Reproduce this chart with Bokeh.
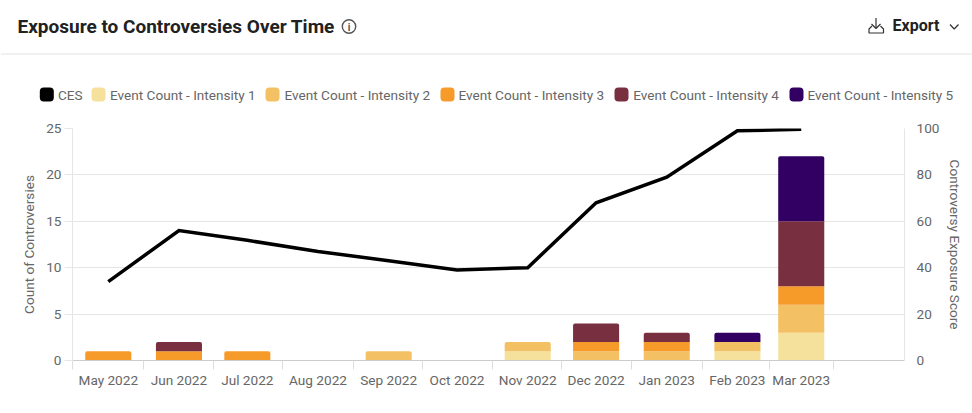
import pandas as pd
from bokeh.plotting import figure
from bokeh.layouts import column, row
from bokeh.models import Range1d, LinearAxis, FixedTicker, ColumnDataSource
from bokeh.core.properties import value
from bokeh.embed import file_html
from bokeh.resources import INLINE

FONT = "Roboto"
TEXT_SIZE = "13.6px"
TITLE = "Exposure to Controversies Over Time"
months = ["2022-05-01", "2022-06-01", "2022-07-01", "2022-08-01", "2022-09-01", "2022-10-01",
          "2022-11-01", "2022-12-01", "2023-01-01", "2023-02-01", "2023-03-01"]
month_labels = ["May 2022", "Jun 2022", "Jul 2022", "Aug 2022", "Sep 2022", "Oct 2022",
                "Nov 2022", "Dec 2022", "Jan 2023", "Feb 2023", "Mar 2023"]
ces = [34, 56, 51.8, 47, 43, 39, 40, 68, 79, 99, 99.7]
intensity_1 = [0, 0, 0, 0, 0, 0, 1, 0, 0, 1, 3]
intensity_2 = [0, 0, 0, 0, 1, 0, 1, 1, 1, 1, 3]
intensity_3 = [1, 1, 1, 0, 0, 0, 0, 1, 1, 0, 2]
intensity_4 = [0, 1, 0, 0, 0, 0, 0, 2, 1, 0, 7]
intensity_5 = [0, 0, 0, 0, 0, 0, 0, 0, 0, 1, 7]
series_names = ["CES", "Event Count - Intensity 1", "Event Count - Intensity 2",
                "Event Count - Intensity 3", "Event Count - Intensity 4", "Event Count - Intensity 5"]
series_colors = ["#000000", "#F5E19C", "#F4C064", "#F69A2A", "#782F40", "#310062"]
left_ticks = [0, 5, 10, 15, 20, 25]
right_ticks = [0, 20, 40, 60, 80, 100]

# ---------- header: title, export control, divider, legend (pixel coordinates) ----------
W = 972
HEAD_H = 110
head = figure(width=W, height=HEAD_H, x_range=Range1d(0, W), y_range=Range1d(HEAD_H, 0),
              output_backend="svg", toolbar_location=None, min_border=0)
head.axis.visible = False
head.grid.visible = False
head.outline_line_color = None

head.text(x=[17], y=[26], text=[TITLE], text_font=value(FONT), text_font_style="bold",
          text_font_size="19px", text_color="#212121", text_baseline="middle")
head.text(x=[892], y=[25], text=["Export"], text_font=value(FONT), text_font_style="bold",
          text_font_size="16px", text_color="#212121", text_baseline="middle")
head.line([0, W], [53.5, 53.5], line_color="#E3E3E3", line_width=1)

# info icon
head.circle(x=[348.5], y=[26], radius=6.7, fill_color=None, line_color="#555555", line_width=1.4)
head.text(x=[348.5], y=[26.5], text=["i"], text_font=value(FONT), text_font_size="10px",
          text_color="#555555", text_align="center", text_baseline="middle", text_font_style="bold")

# export icon + chevron
ICON = dict(line_color="#333333", line_width=1.2)
head.line([875.5, 875.5], [17.5, 27.5], **ICON)
head.line([871, 875.5, 880], [23.5, 28, 23.5], **ICON)
head.line([871.5, 868.5, 868.5, 883, 883, 880], [25.5, 28.5, 32.5, 32.5, 28.5, 25.5], **ICON)
head.line([949.5, 953.7, 958], [24, 28.5, 24], line_color="#333333", line_width=1.2)

# legend
swatch_left = [39.3, 91, 265, 440, 614, 789]
text_left = [57.5, 109.5, 284, 458, 632.7, 807]
head.quad(left=swatch_left, right=[v + 14 for v in swatch_left], top=[87] * 6, bottom=[101] * 6,
          fill_color=series_colors, line_color=None, border_radius=4)
head.text(x=text_left, y=[94.2] * 6, text=series_names, text_font=value(FONT), text_font_size=TEXT_SIZE,
          text_color="#666666", text_baseline="middle")

# ---------- chart ----------
start = pd.Timestamp(months[0])
x = [int((pd.Timestamp(m) - start).days) for m in months]
x_left, x_right = -15.7, 349.3
edges = [x_left] + [(a + b) / 2 for a, b in zip(x[:-1], x[1:])] + [x[-1] + 14]

p = figure(width=W, height=413 - HEAD_H, x_range=Range1d(x_left, x_right), y_range=Range1d(0, 25),
           output_backend="svg", toolbar_location=None, min_border_left=72, min_border_right=68,
           min_border_top=18, min_border_bottom=53)
p.extra_y_ranges = {"score": Range1d(0, 100)}
p.outline_line_color = None
p.xgrid.visible = False
p.ygrid.ticker = FixedTicker(ticks=left_ticks)
p.ygrid.grid_line_color = "#E6E6E6"

stacks = [intensity_1, intensity_2, intensity_3, intensity_4, intensity_5]
inner = dict(x=[], bottom=[], top=[], color=[])
tops = dict(x=[], bottom=[], top=[], color=[])
for i, xv in enumerate(x):
    base = 0
    heights = [s[i] for s in stacks]
    last = max([k for k, h in enumerate(heights) if h > 0], default=-1)
    for k, h in enumerate(heights):
        if h > 0:
            tgt = tops if k == last else inner
            tgt["x"].append(xv)
            tgt["bottom"].append(base)
            tgt["top"].append(base + h)
            tgt["color"].append(series_colors[k + 1])
            base += h
BAR_W = 20.2
p.vbar(x="x", bottom="bottom", top="top", width=BAR_W, fill_color="color", line_color=None,
       source=ColumnDataSource(inner))
p.vbar(x="x", bottom="bottom", top="top", width=BAR_W, fill_color="color", line_color=None,
       border_radius=(2, 2, 0, 0), source=ColumnDataSource(tops))
p.line(x, ces, y_range_name="score", line_color="#000000", line_width=3.5, line_join="miter")

TICK = dict(major_label_text_font=FONT, major_label_text_font_size=TEXT_SIZE, major_label_text_color="#666666",
            axis_label_text_font=FONT, axis_label_text_font_size=TEXT_SIZE, axis_label_text_color="#666666",
            axis_label_text_font_style="normal")

xa = p.xaxis[0]
xa.ticker = FixedTicker(ticks=x, minor_ticks=edges)
xa.major_label_overrides = dict(zip(x, month_labels))
xa.axis_line_color = "#CCCCCC"
xa.major_tick_line_color = None
xa.major_tick_in = 0
xa.major_tick_out = 9
xa.minor_tick_line_color = "#DDDDDD"
xa.minor_tick_in = 0
xa.minor_tick_out = 9
xa.major_label_standoff = 2
xa.update(**TICK)

ya = p.yaxis[0]
ya.ticker = FixedTicker(ticks=left_ticks)
ya.axis_label = "Count of Controversies"
ya.axis_line_color = "#E6E6E6"
ya.major_tick_line_color = "#E6E6E6"
ya.major_tick_in = 0
ya.major_tick_out = 8
ya.minor_tick_line_color = None
ya.major_label_standoff = 3
ya.axis_label_standoff = 6
ya.update(**TICK)

yr = LinearAxis(y_range_name="score", ticker=FixedTicker(ticks=right_ticks),
                axis_label="Controversy Exposure Score")
yr.axis_line_color = "#E6E6E6"
yr.major_tick_line_color = None
yr.major_tick_in = 0
yr.major_tick_out = 0
yr.minor_tick_line_color = None
yr.major_label_standoff = 12
yr.axis_label_standoff = 5
yr.update(**TICK)
p.add_layout(yr, "right")

page = column(row(head), row(p), spacing=0)
open("out.html", "w").write(file_html(page, INLINE))
